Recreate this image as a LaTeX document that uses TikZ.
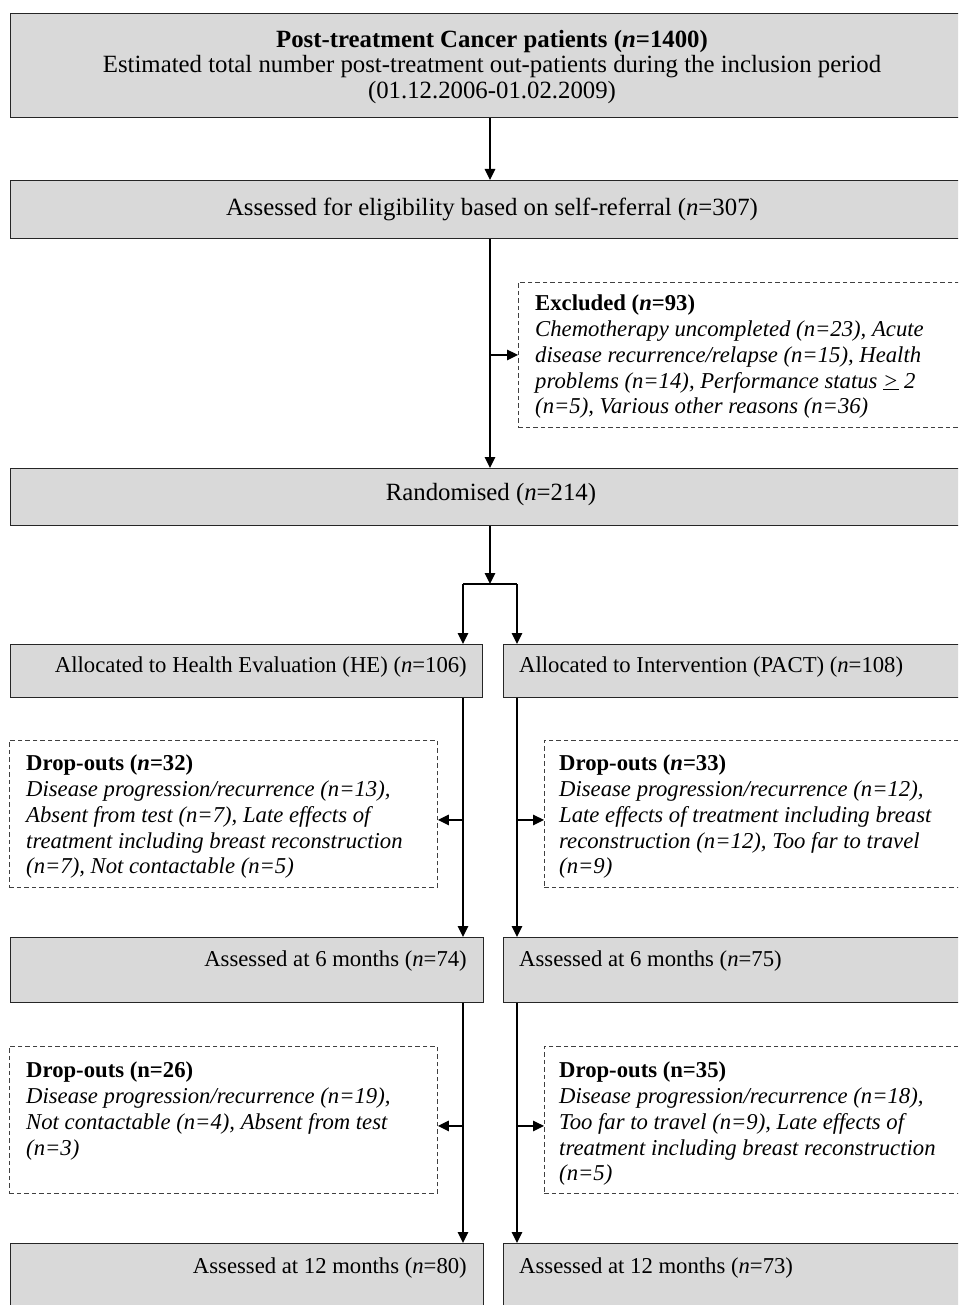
\documentclass[tikz,border=0pt]{standalone}
\usepackage{fontspec}
\setmainfont{Liberation Serif}
\usetikzlibrary{arrows.meta}
\tikzset{
  graybox/.style={draw=black!85, line width=1.3pt, fill=black!15, rectangle, inner sep=0pt, anchor=north west},
  dashbox/.style={draw=black!75, line width=0.9pt, dash pattern=on 4.5pt off 3pt, fill=white, rectangle, inner sep=0pt, anchor=north west},
  txt/.style={inner sep=0pt, font=\fontsize{22.7}{25.7}\selectfont},
  bigtxt/.style={inner sep=0pt, font=\fontsize{24.8}{25.2}\selectfont},
  arr/.style={line width=1.3pt, -{Triangle[length=11pt,width=10.5pt]}},
  ln/.style={line width=1.3pt}
}
\begin{document}
\begin{tikzpicture}[x=1pt,y=-1pt]
\useasboundingbox (0,0) rectangle (958,1305);
\clip (0,0) rectangle (958,1305);
\fill[white] (0,0) rectangle (958,1305);
% boxes
\node[graybox, minimum width=964, minimum height=104] (b1) at (10,13) {};
\node[graybox, minimum width=964, minimum height=58] (b2) at (10,180) {};
\node[dashbox, minimum width=452, minimum height=145] (ex) at (518,282) {};
\node[graybox, minimum width=964, minimum height=57] (b3) at (10,468) {};
\node[graybox, minimum width=472, minimum height=53] (b4l) at (10,644) {};
\node[graybox, minimum width=471, minimum height=53] (b4r) at (503,644) {};
\node[dashbox, minimum width=428, minimum height=147] (d1l) at (9,740) {};
\node[dashbox, minimum width=426, minimum height=147] (d1r) at (544,740) {};
\node[graybox, minimum width=473, minimum height=65] (b5l) at (10,937) {};
\node[graybox, minimum width=471, minimum height=65] (b5r) at (503,937) {};
\node[dashbox, minimum width=428, minimum height=147] (d2l) at (9,1046) {};
\node[dashbox, minimum width=426, minimum height=147] (d2r) at (544,1046) {};
\node[graybox, minimum width=473, minimum height=80] (b6l) at (10,1243) {};
\node[graybox, minimum width=471, minimum height=80] (b6r) at (503,1243) {};
% texts
\node[bigtxt, align=center] (t1) at (492,67) {\textbf{Post-treatment Cancer patients (\textit{n}=1400)}\\Estimated total number post-treatment out-patients during the inclusion period\\(01.12.2006-01.02.2009)};
\node[bigtxt] (t2) at (492,209) {Assessed for eligibility based on self-referral (\textit{n}=307)};
\node[txt, align=left, anchor=north west] (tex) at (535,295) {\textbf{Excluded (\textit{n}=93)}\\\textit{Chemotherapy uncompleted (n=23), Acute}\\\textit{disease recurrence/relapse (n=15), Health}\\\textit{problems (n=14), Performance status \underline{>} 2}\\\textit{(n=5), Various other reasons (n=36)}};
\node[bigtxt] (t3) at (491,495) {Randomised (\textit{n}=214)};
\node[txt, anchor=east] (t4l) at (467,667) {Allocated to Health Evaluation (HE) (\textit{n}=106)};
\node[txt, anchor=west] (t4r) at (519,667) {Allocated to Intervention (PACT) (\textit{n}=108)};
\node[txt, align=left, anchor=north west] (td1l) at (26,755) {\textbf{Drop-outs (\textit{n}=32)}\\\textit{Disease progression/recurrence (n=13),}\\\textit{Absent from test (n=7), Late effects of}\\\textit{treatment including breast reconstruction}\\\textit{(n=7), Not contactable (n=5)}};
\node[txt, align=left, anchor=north west] (td1r) at (559,755) {\textbf{Drop-outs (\textit{n}=33)}\\\textit{Disease progression/recurrence (n=12),}\\\textit{Late effects of treatment including breast}\\\textit{reconstruction (n=12), Too far to travel}\\\textit{(n=9)}};
\node[txt, anchor=east] (t5l) at (467,961) {Assessed at 6 months (\textit{n}=74)};
\node[txt, anchor=west] (t5r) at (519,961) {Assessed at 6 months (\textit{n}=75)};
\node[txt, align=left, anchor=north west] (td2l) at (26,1062) {\textbf{Drop-outs (n=26)}\\\textit{Disease progression/recurrence (n=19),}\\\textit{Not contactable (n=4), Absent from test}\\\textit{(n=3)}};
\node[txt, align=left, anchor=north west] (td2r) at (559,1062) {\textbf{Drop-outs (n=35)}\\\textit{Disease progression/recurrence (n=18),}\\\textit{Too far to travel (n=9), Late effects of}\\\textit{treatment including breast reconstruction}\\\textit{(n=5)}};
\node[txt, anchor=east] (t6l) at (467,1268) {Assessed at 12 months (\textit{n}=80)};
\node[txt, anchor=west] (t6r) at (519,1268) {Assessed at 12 months (\textit{n}=73)};
% connectors
\coordinate (cx) at (490,0);
\coordinate (lx) at (463,0);
\coordinate (rx) at (517,0);
\coordinate (split) at (490,584);
\draw[arr] (b1.south -| cx) -- (b2.north -| cx);
\draw[arr] (b2.south -| cx) -- (b3.north -| cx);
\draw[arr] (cx |- ex.west) -- (ex.west);
\draw[arr] (b3.south -| cx) -- (split);
\draw[ln] (split -| lx) -- (split -| rx);
\draw[arr] (split -| lx) -- (b4l.north -| lx);
\draw[arr] (split -| rx) -- (b4r.north -| rx);
\draw[arr] (b4l.south -| lx) -- (b5l.north -| lx);
\draw[arr] (b4r.south -| rx) -- (b5r.north -| rx);
\draw[arr] ([yshift=-6pt]d1l.east -| lx) -- ([yshift=-6pt]d1l.east);
\draw[arr] ([yshift=-6pt]d1r.west -| rx) -- ([yshift=-6pt]d1r.west);
\draw[arr] (b5l.south -| lx) -- (b6l.north -| lx);
\draw[arr] (b5r.south -| rx) -- (b6r.north -| rx);
\draw[arr] ([yshift=-6pt]d2l.east -| lx) -- ([yshift=-6pt]d2l.east);
\draw[arr] ([yshift=-6pt]d2r.west -| rx) -- ([yshift=-6pt]d2r.west);
\end{tikzpicture}
\end{document}
